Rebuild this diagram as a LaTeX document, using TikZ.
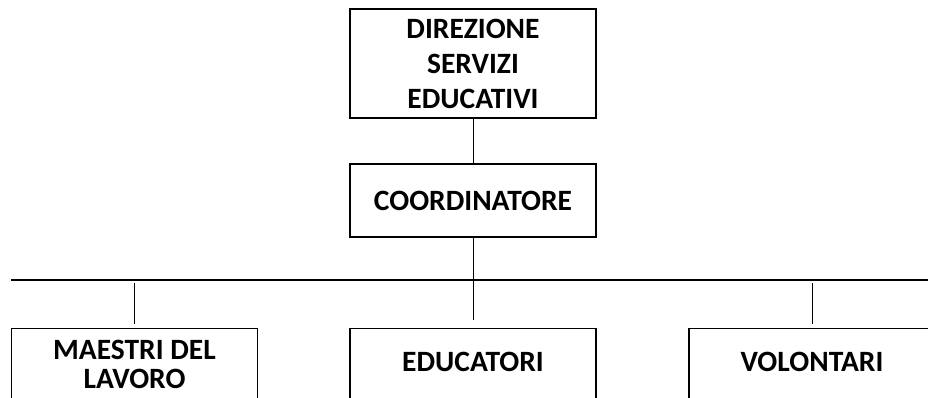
\documentclass[tikz,border=0pt]{standalone}
\usepackage{fontspec}
\setmainfont{Carlito}
\usepackage{tikz}
\usetikzlibrary{positioning,calc}

\begin{document}
\begin{tikzpicture}[
    x=1pt, y=-1pt,
    box/.style={rectangle, draw, line width=1.4pt, minimum width=246pt, inner sep=0pt, align=center, font=\bfseries\fontsize{29.5}{35}\selectfont},
    lowbox/.style={box, anchor=north, minimum height=90pt, text height=19pt},
    link/.style={thin, black},
    bus/.style={line width=1.4pt, black}
]
\useasboundingbox (0,0) rectangle (928,398);
\clip (0,0) rectangle (928,398);

% Top levels
\node[box, minimum height=109pt] (direzione) at (473,63.5) {DIREZIONE\\SERVIZI\\EDUCATIVI};
\node[box, minimum height=73pt] (coordinatore) at (473,200.5) {COORDINATORE};

% Horizontal line
\coordinate (busL) at (11,280);
\coordinate (busR) at (928,280);

% Bottom level
\node[lowbox, text height=48pt, text depth=18pt, font=\bfseries\fontsize{29.5}{29}\selectfont] (maestri) at (134.5,328) {MAESTRI DEL\\LAVORO};
\node[lowbox, text depth=24pt] (educatori) at (473,328) {EDUCATORI};
\node[lowbox, text depth=24pt] (volontari) at (812,328) {VOLONTARI};

% Connections
\draw[link] (direzione) -- (coordinatore);
\draw[link, shorten >=8pt] (coordinatore) -- (educatori);
\draw[bus] (busL) -- (busR);
\draw[link, shorten <=3pt, shorten >=4pt] (maestri.north |- busL) -- (maestri.north);
\draw[link, shorten <=3pt, shorten >=4pt] (volontari.north |- busL) -- (volontari.north);

\end{tikzpicture}
\end{document}
